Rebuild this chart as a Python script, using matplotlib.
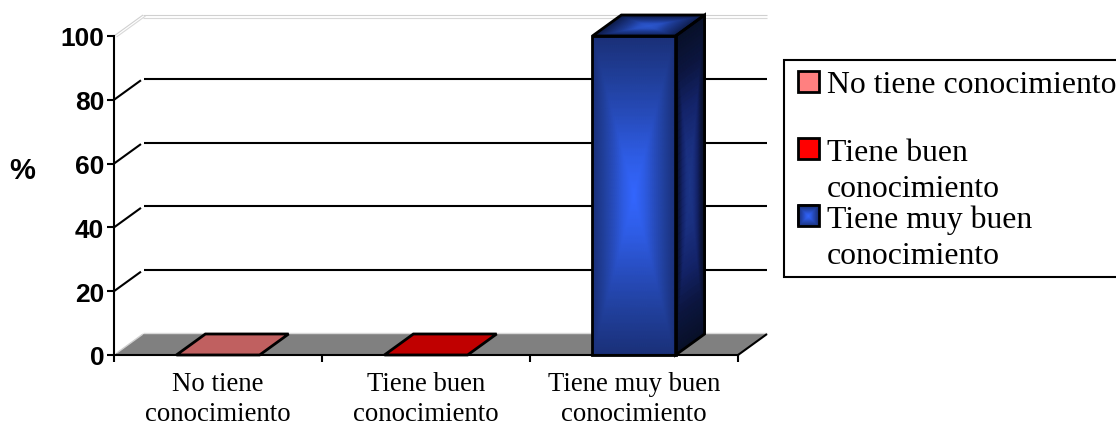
import numpy as np
import matplotlib
matplotlib.use("Agg")
import matplotlib.pyplot as plt
from matplotlib.colors import LinearSegmentedColormap
from matplotlib.patches import Polygon, Rectangle
from matplotlib.transforms import IdentityTransform

# -------------------------------
# Data
# -------------------------------

categories = ["No tiene\nconocimiento", "Tiene buen\nconocimiento", "Tiene muy buen\nconocimiento"]
values = [0, 0, 100]
yticks = [0, 20, 40, 60, 80, 100]
legend_labels = ["No tiene conocimiento", "Tiene buen\nconocimiento", "Tiene muy buen\nconocimiento"]

top_flat = ["#C06060", "#C00000"]
legend_flat = ["#FF8080", "#FF0000"]

front_stops = ["#3366FF", "#2E5CE4", "#274CBC", "#203E98", "#1A3078"]
side_stops = ["#1C3588", "#1A3080", "#14246A", "#0C1640", "#081028"]
top_stops = ["#2C58D0", "#2850C0", "#1E3C94", "#162C70", "#0E1C48"]

DEPTH = np.array([29.0, 21.0])  # pixels towards the back wall
LW = 1.5

SERIF = "Liberation Serif"
SANS = "Liberation Sans"

fig = plt.figure(figsize=(11.16, 4.27), dpi=100)
ax = fig.add_axes([114 / 1116, 71 / 427, 624 / 1116, 319 / 427])
ax.set_xlim(0, 3)
ax.set_ylim(0, 100)
ax.patch.set_visible(False)


def pt(x, y, back=0.0):
    return ax.transData.transform((x, y)) + DEPTH * back


def gradient_face(target, corners, stops, zorder):
    # corners: bottom-left, bottom-right, top-right, top-left in display pixels
    cmap = LinearSegmentedColormap.from_list("face", stops)
    u, v = np.meshgrid(np.linspace(0, 1, 41), np.linspace(0, 1, 41))
    c = np.array(corners)
    xy = ((1 - u) * (1 - v))[..., None] * c[0] + (u * (1 - v))[..., None] * c[1] \
        + (u * v)[..., None] * c[2] + ((1 - u) * v)[..., None] * c[3]
    t = np.maximum(np.abs(2 * u - 1), np.abs(2 * v - 1))
    target.pcolormesh(xy[..., 0], xy[..., 1], t, cmap=cmap, vmin=0, vmax=1, shading="gouraud",
                      transform=IdentityTransform(), zorder=zorder, clip_on=False)


def outline(corners, zorder, face="none", edge="black", lw=2.0):
    ax.add_patch(Polygon(corners, closed=True, facecolor=face, edgecolor=edge, linewidth=lw,
                         transform=IdentityTransform(), zorder=zorder, clip_on=False,
                         joinstyle="miter"))


def segment(p, q, color="black", lw=LW, zorder=1):
    ax.plot([p[0], q[0]], [p[1], q[1]], color=color, lw=lw, transform=IdentityTransform(),
            zorder=zorder, clip_on=False, solid_capstyle="butt")


# -------------------------------
# Floor and back wall
# -------------------------------

outline([pt(0, 0), pt(3, 0), pt(3, 0, 1), pt(0, 0, 1)], 1, face="#808080", edge="none", lw=0)
segment(pt(0, 0, 0.1), pt(0, 0, 1), color="#D0D0D0", lw=1.0, zorder=1.5)
segment(pt(0, 0, 1) + (0, 1), pt(3, 0, 1) + (0, 1), color="#D8D8D8", lw=1.0, zorder=1.5)
segment(pt(3, 0), pt(3, 0, 1), zorder=2)

for v in yticks[1:-1]:
    segment(pt(0, v), pt(0, v, 0.93))
    segment(pt(0, v, 1) + (1, 0), pt(3, v, 1))

for off, col in [(0.0, "#D0D0D0"), (2.5, "#D8D8D8")]:
    segment(pt(0, 100) + (off, -off * 0.4), pt(0, 100, 1) + (off, -off * 0.4), color=col, lw=0.8)
    segment(pt(0, 100, 1) + (0, -off), pt(3, 100, 1) + (0, -off), color=col, lw=0.8)

# -------------------------------
# Bars
# -------------------------------

bar_width = 0.4
for i, val in enumerate(values):
    x0 = i + 0.5 - bar_width / 2
    x1 = i + 0.5 + bar_width / 2
    front = [pt(x0, 0), pt(x1, 0), pt(x1, val), pt(x0, val)]
    side = [pt(x1, 0), pt(x1, 0, 1), pt(x1, val, 1), pt(x1, val)]
    top = [pt(x0, val), pt(x1, val), pt(x1, val, 1), pt(x0, val, 1)]
    if val > 0:
        gradient_face(ax, side, side_stops, 3)
        gradient_face(ax, top, top_stops, 3)
        gradient_face(ax, front, front_stops, 3)
        outline(side, 4)
        outline(top, 4)
        outline(front, 4)
    else:
        outline(top, 4, face=top_flat[i])

# -------------------------------
# Axes
# -------------------------------

for name in ["top", "right"]:
    ax.spines[name].set_visible(False)
for name in ["left", "bottom"]:
    ax.spines[name].set_linewidth(LW)
    ax.spines[name].set_zorder(5)

ax.set_yticks(yticks)
ax.set_yticklabels([str(v) for v in yticks], family=SANS, fontweight="bold", fontsize=19)
ax.tick_params(axis="y", length=5, width=LW, pad=2)

ax.set_xticks([0, 1, 2, 3])
ax.set_xticklabels([])
ax.tick_params(axis="x", which="major", length=5, width=LW)
ax.set_xticks([0.5, 1.5, 2.5], minor=True)
ax.set_xticklabels(categories, minor=True, family=SERIF, fontsize=19.3, linespacing=1.26)
ax.tick_params(axis="x", which="minor", length=0, pad=11.5)

# -------------------------------
# Legend, laid out in figure pixels
# -------------------------------

over = fig.add_axes([0, 0, 1, 1])
over.set_xlim(0, 1116)
over.set_ylim(427, 0)
over.axis("off")

over.add_patch(Rectangle((784, 60.5), 340, 217.5, facecolor="white", edgecolor="black", linewidth=LW, zorder=1))

swatch_y = [72, 139, 206]
text_y = [93, 161, 228]
for i, label in enumerate(legend_labels):
    y = swatch_y[i]
    if i < 2:
        over.add_patch(Rectangle((798, y), 21, 21, facecolor=legend_flat[i], edgecolor="black", linewidth=2.0, zorder=2))
    else:
        # display y runs upward, the overlay's y runs downward
        gradient_face(over, [(798, 427 - y - 21), (819, 427 - y - 21), (819, 427 - y), (798, 427 - y)], front_stops, 2)
        over.add_patch(Rectangle((798, y), 21, 21, facecolor="none", edgecolor="black", linewidth=2.0, zorder=3))
    lines = label.split("\n")
    over.text(827, text_y[i], lines[0], family=SERIF, fontsize=22.9, va="baseline", ha="left", zorder=4)
    if len(lines) > 1:
        over.text(827, text_y[i] + 36, lines[1], family=SERIF, fontsize=22.9, va="baseline", ha="left", zorder=4)

over.text(22, 171, "%", family=SANS, fontweight="bold", fontsize=21, ha="center", va="center")

fig.savefig("out.png", dpi=100)
